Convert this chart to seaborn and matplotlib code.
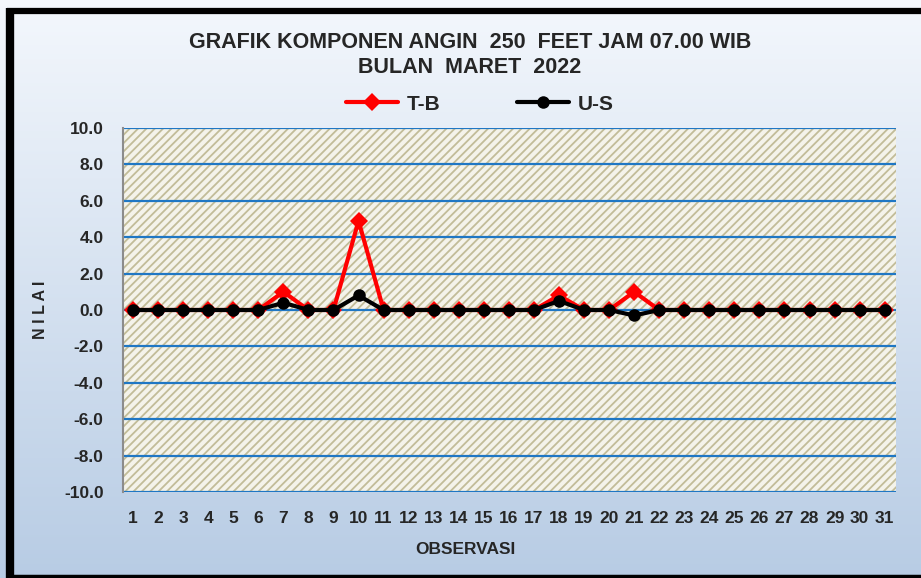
import matplotlib
matplotlib.use("Agg")
import matplotlib.pyplot as plt
import numpy as np
import pandas as pd
import seaborn as sns
from matplotlib.lines import Line2D
from matplotlib.patches import Rectangle

# data
days = list(range(1, 32))
tb_values = [0, 0, 0, 0, 0, 0, 1.0, 0, 0, 4.9, 0, 0, 0, 0, 0, 0, 0, 0.8, 0, 0,
             1.0, 0, 0, 0, 0, 0, 0, 0, 0, 0, 0]
us_values = [0, 0, 0, 0, 0, 0, 0.4, 0, 0, 0.8, 0, 0, 0, 0, 0, 0, 0, 0.5, 0, 0,
             -0.3, 0, 0, 0, 0, 0, 0, 0, 0, 0, 0]
y_ticks = [-10, -8, -6, -4, -2, 0, 2, 4, 6, 8, 10]
series_names = ["T-B", "U-S"]
series_colors = {"T-B": "#ff0000", "U-S": "#000000"}
series_markers = {"T-B": "D", "U-S": "o"}

title_text = "GRAFIK KOMPONEN ANGIN  250  FEET JAM 07.00 WIB\nBULAN  MARET  2022"

df = pd.DataFrame({
    "Observasi": days * 2,
    "Nilai": tb_values + us_values,
    "Seri": ["T-B"] * len(days) + ["U-S"] * len(days),
})

sns.set_style("white")
narrow = ["Liberation Sans Narrow", "Liberation Sans"]
wide = ["Liberation Sans", "DejaVu Sans"]
plt.rcParams["hatch.linewidth"] = 1.3

fig = plt.figure(figsize=(9.21, 5.78), dpi=100)

# gradient background
bg = fig.add_axes([0, 0, 1, 1], zorder=-10)
grad = np.linspace(0, 1, 256)[:, None]
top = np.array([0.955, 0.97, 0.99])
bottom = np.array([0.72, 0.80, 0.895])
img = top[None, None, :] * (1 - grad[:, :, None]) + bottom[None, None, :] * grad[:, :, None]
bg.imshow(img, aspect="auto", extent=[0, 1, 0, 1])
bg.set_axis_off()

ax = fig.add_axes([123 / 921, 1 - 492 / 578, 773 / 921, 364 / 578])
ax.set_facecolor("white")
ax.add_patch(Rectangle((0, 0), 1, 1, transform=ax.transAxes, facecolor="#f4f3ea",
                       edgecolor="#c2bc98", hatch="////", linewidth=0, zorder=0))

for y in y_ticks:
    ax.axhline(y, color="#1f77c4", linewidth=1.6, zorder=1)

sns.lineplot(data=df, x="Observasi", y="Nilai", hue="Seri", style="Seri",
             palette=series_colors, markers=series_markers,
             dashes=False, linewidth=3, markersize=9, markeredgewidth=0,
             legend=False, ax=ax, zorder=3)

ax.set_xlim(0.6, 31.45)
ax.set_ylim(-10, 10)
ax.set_xticks(days)
ax.set_xticklabels([str(d) for d in days], family=narrow, fontweight="bold", fontsize=12.5)
ax.set_yticks(y_ticks)
ax.set_yticklabels([f"{v:.1f}" for v in y_ticks], family=wide, fontweight="bold", fontsize=12.5)
ax.tick_params(axis="x", length=0, pad=14)
ax.tick_params(axis="y", length=0, pad=14)
ax.set_xlabel("")
ax.set_ylabel("")
for side in ["top", "right", "bottom"]:
    ax.spines[side].set_visible(False)
ax.spines["left"].set_color("#8c8c8c")
ax.spines["left"].set_linewidth(1.5)

fig.text(0.51, 0.904, title_text, ha="center", va="center", family=narrow,
         fontweight="bold", fontsize=15.5, linespacing=1.25)
fig.text(0.505, 0.05, "OBSERVASI", ha="center", va="center", family=narrow,
         fontweight="bold", fontsize=12.5)
fig.text(0.044, 0.464, "N I L A I", ha="center", va="center", rotation=90,
         family=wide, fontweight="bold", fontsize=11.5)

handles = [Line2D([], [], color=series_colors[n], linewidth=3,
                  marker=series_markers[n], markersize=9,
                  markeredgewidth=0) for n in series_names]
fig.legend(handles, series_names, loc="center", bbox_to_anchor=(0.521, 0.82),
           ncol=2, frameon=False, handlelength=2.5, columnspacing=3.7,
           handletextpad=0.4, prop={"family": narrow, "weight": "bold", "size": 15})

# black frame
frame = dict(color="black", transform=fig.transFigure, solid_capstyle="butt")
fig.add_artist(Line2D([10 / 921, 10 / 921], [0, 1 - 8 / 578], linewidth=6, **frame))
fig.add_artist(Line2D([7 / 921, 1], [1 - 11 / 578, 1 - 11 / 578], linewidth=4.5, **frame))
fig.add_artist(Line2D([7 / 921, 1], [2 / 578, 2 / 578], linewidth=2.5, **frame))

fig.savefig("out.png", dpi=100)
